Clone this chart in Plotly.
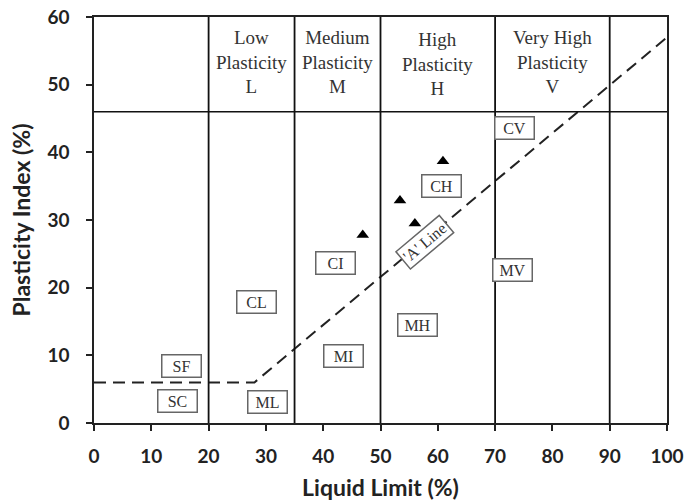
import plotly.graph_objects as go

# Data
sample_ll = [46.9, 53.4, 56.0, 60.9]
sample_pi = [27.8, 32.9, 29.5, 38.7]

a_line_ll = [0, 28, 100]
a_line_pi = [6, 6, 57]

zone_bounds_ll = [20, 35, 50, 70, 90]
header_line_pi = 46

header_labels = ["Low<br>Plasticity<br>L", "Medium<br>Plasticity<br>M",
                 "High<br>Plasticity<br>H", "Very High<br>Plasticity<br>V"]
header_x = [27.5, 42.5, 60, 80]
header_y = [53.3, 53.3, 53.0, 53.3]

box_labels = ["CV", "CH", "CI", "CL", "MV", "MH", "MI", "SF", "SC", "ML"]
box_x = [73.3, 60.6, 42.1, 28.4, 73.0, 56.4, 43.6, 15.2, 14.5, 30.2]
box_y = [43.6, 35.0, 23.6, 17.9, 22.6, 14.5, 9.9, 8.4, 3.2, 3.1]

fig = go.Figure()

fig.add_trace(go.Scatter(x=a_line_ll, y=a_line_pi, mode="lines",
                         line=dict(color="#222", width=2, dash="12px,7px"),
                         showlegend=False, hoverinfo="skip"))
fig.add_trace(go.Scatter(x=sample_ll, y=sample_pi, mode="markers",
                         marker=dict(symbol="triangle-up", size=11, color="black"),
                         showlegend=False))

for xv in zone_bounds_ll:
    fig.add_shape(type="line", x0=xv, x1=xv, y0=0, y1=60,
                  line=dict(color="#111", width=1.8))
fig.add_shape(type="line", x0=0, x1=100, y0=header_line_pi, y1=header_line_pi,
              line=dict(color="#111", width=1.5))

serif = "Liberation Serif"
for t, xv, yv in zip(header_labels, header_x, header_y):
    fig.add_annotation(x=xv, y=yv, text=t, showarrow=False,
                       font=dict(family=serif, size=19, color="#333"))

for t, xv, yv in zip(box_labels, box_x, box_y):
    fig.add_annotation(x=xv, y=yv, text=t, showarrow=False,
                       font=dict(family=serif, size=16, color="#333"),
                       width=34, height=17,
                       bordercolor="#666", borderwidth=1.5, borderpad=2,
                       bgcolor="white")

fig.add_annotation(x=57.8, y=26.7, text="'A' Line", showarrow=False, textangle=-40,
                   font=dict(family=serif, size=16, color="#333"),
                   bordercolor="#666", borderwidth=1.5, borderpad=2, bgcolor="white")

title_font = dict(family="Lato", size=23, color="#222")
tick_font = dict(family="Lato", size=19, color="#222")
common = dict(showgrid=False, zeroline=False, showline=True, linecolor="#222",
              linewidth=1.5, mirror=True, ticks="outside", ticklen=6,
              tickcolor="#222", tickwidth=1.5, tickfont=tick_font, automargin=False,
              tickmode="linear", tick0=0, dtick=10,
              tickprefix="<b>", ticksuffix="</b>")
fig.update_xaxes(range=[0, 100], ticklabelstandoff=9,
                 title=dict(text="<b>Liquid Limit (%)</b>", font=title_font, standoff=14),
                 **common)
fig.update_yaxes(range=[0, 60], ticklabelstandoff=13,
                 title=dict(text="<b>Plasticity Index (%)</b>", font=title_font, standoff=10),
                 **common)

fig.update_layout(width=689, height=501, plot_bgcolor="white", paper_bgcolor="white",
                  margin=dict(l=94, r=22, t=17, b=78),
                  font=dict(family="Lato", size=17, color="#222"))

# remove the default 8px page margin so the figure fills the window
fig.write_html("out.html", config={"displayModeBar": False},
               post_script="document.body.style.margin='0';")
